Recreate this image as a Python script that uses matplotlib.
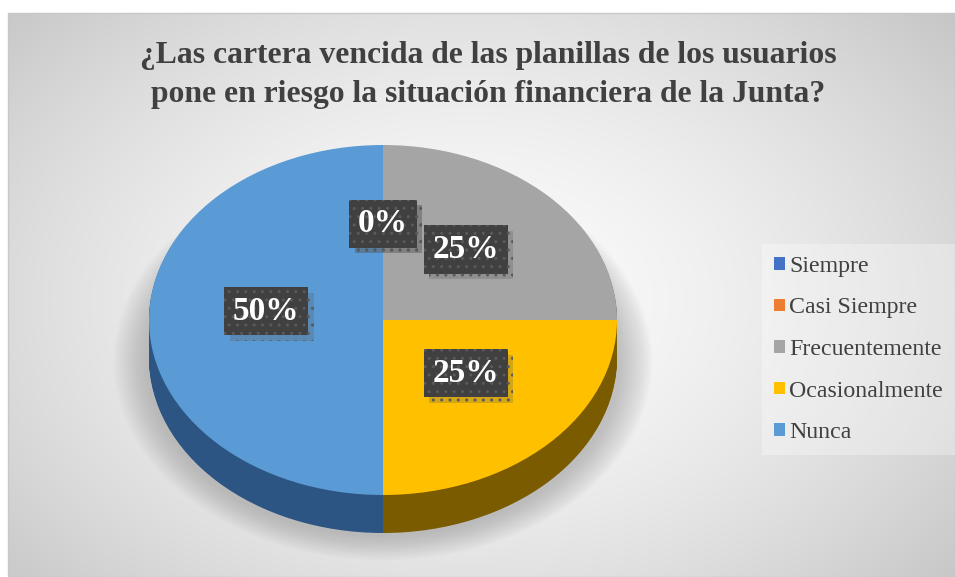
import numpy as np
import matplotlib.pyplot as plt
from matplotlib.patches import Ellipse, Rectangle
import matplotlib.patheffects as pe

plt.rcParams['font.family'] = ['Liberation Serif', 'DejaVu Serif']

# data
categories = ['Siempre', 'Casi Siempre', 'Frecuentemente', 'Ocasionalmente', 'Nunca']
values = [0, 0, 25, 25, 50]
colors = ['#4472C4', '#ED7D31', '#A5A5A5', '#FFC000', '#5B9BD5']
side_colors = ['#2b4a80', '#9c4f1c', '#6b6b6b', '#7a5b00', '#2c5583']
title = '¿Las cartera vencida de las planillas de los usuarios\npone en riesgo la situación financiera de la Junta?'

W, H = 955, 577
fig = plt.figure(figsize=(W / 100, H / 100), dpi=100)

# background with radial gradient
bg = fig.add_axes([0, 0, 1, 1])
yy, xx = np.mgrid[0:H, 0:W]
r = np.sqrt(((xx - 470) / 620.0) ** 2 + ((yy - 300) / 430.0) ** 2)
shade = np.clip(0.985 - 0.20 * r ** 1.6, 0, 1)
img = np.dstack([shade] * 3)
img[:13, :, :] = 1.0
img[:, :8, :] = 1.0
bg.imshow(img, extent=[0, W, H, 0], aspect='auto', interpolation='bilinear')
bg.add_patch(Rectangle((8, 13), W - 8, H - 13, fill=False, edgecolor='#c8c8c8', lw=1))
bg.set_xlim(0, W)
bg.set_ylim(H, 0)
bg.axis('off')

# pie axes (squashed ellipse)
cx, cy, a, b, depth = 383, 320, 234, 175, 38
ax = fig.add_axes([(cx - a) / W, (H - (cy + b + depth)) / H, 2 * a / W, (2 * b + depth) / H])
d = depth / b

# soft shadow under the pie
for k in range(16):
    s = 1.0 + 0.009 * k
    ax.add_patch(Ellipse((0.0, -d - 0.02), 2 * s + 0.03, 2 * s, color='#8c8c8c', alpha=0.035,
                         lw=0, zorder=0, clip_on=False))

# side of the 3D pie
for t in np.linspace(d, 0.005, 30):
    ws, _ = ax.pie(values, colors=side_colors, startangle=90, counterclock=False, center=(0, -t),
                   wedgeprops=dict(linewidth=0), normalize=True)
    for w in ws:
        w.set_clip_on(False)

wedges, _, autotexts = ax.pie(values, colors=colors, startangle=90, counterclock=False,
                              autopct='%1.0f%%', pctdistance=0.5,
                              wedgeprops=dict(linewidth=0),
                              textprops=dict(color='white', fontsize=24, fontweight='bold'))
ax.set_aspect('auto')
ax.set_xlim(-1, 1)
ax.set_ylim(-1 - d, 1)
ax.axis('off')

for t in autotexts:
    x0, y0 = t.get_position()
    t.set_position((x0, y0 + 0.05))  # perspective: labels sit a bit higher
    t.set_bbox(dict(boxstyle='square,pad=0.26', facecolor='#404040', edgecolor='#5a5a5a',
                    linewidth=0, hatch='..'))
    t.get_bbox_patch().set_path_effects([pe.withSimplePatchShadow(offset=(4, -4), shadow_rgbFace='#555555', alpha=0.25),
                                         pe.Normal()])
    t.set_zorder(10)

# title
fig.text(488 / W, 1 - 75 / H, title, ha='center', va='center', fontsize=22.8, fontweight='bold',
         color='#404040', linespacing=1.45)

# legend
leg = fig.legend(wedges, categories, loc='upper left', bbox_to_anchor=(762 / W, 1 - 244 / H),
                 fontsize=17.2, frameon=True, handlelength=0.45, handleheight=0.45,
                 handletextpad=0.2, labelspacing=0.86, borderpad=0.5, borderaxespad=0)
leg.get_frame().set_facecolor('#ffffff')
leg.get_frame().set_alpha(0.3)
leg.get_frame().set_linewidth(0)
leg.get_frame().set_boxstyle('square', pad=0)
for txt in leg.get_texts():
    txt.set_color('#404040')

fig.savefig('out.png', dpi=100)
